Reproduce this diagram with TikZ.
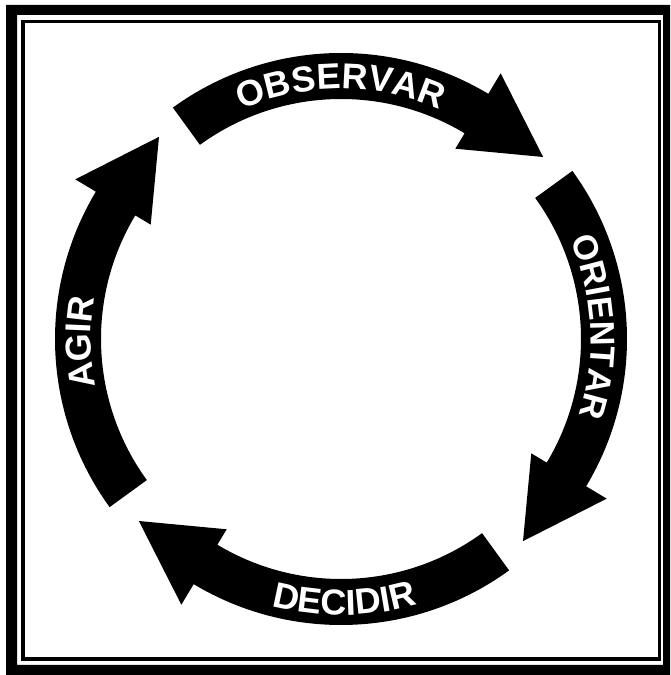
\documentclass[tikz,border=0pt]{standalone}
\usepackage{fontspec}
\setmainfont{Liberation Sans}
\usetikzlibrary{decorations.text}
\tikzset{
  bandfill/.style={fill=black},
  labelfont/.style={decoration={text along path, text align=center, text color=white}}
}
\newcommand{\arcfont}{\fontsize{36}{36}\selectfont\bfseries}
\newcommand{\arcfontsmall}{\fontsize{34.5}{34.5}\selectfont\bfseries}
\begin{document}
\begin{tikzpicture}[x=1pt,y=1pt]
\useasboundingbox (0,0) rectangle (670,675);
\fill[white] (0,0) rectangle (670,675);
% frame
\fill[black,even odd rule] (6,0) rectangle (670,670) (17,10) rectangle (663,660);
\draw[line width=3.2pt] (23,16) rectangle (659.5,653.5);
\begin{scope}[shift={(341pt,336pt)}]
\foreach \a in {126,36,-54,-144}{
  \fill[bandfill] (\a:286pt) arc[start angle=\a, end angle=\a-67, radius=286pt]
    -- (\a-67:310pt) -- (\a-84:272pt) -- (\a-67:222pt) -- (\a-67:240pt)
    arc[start angle=\a-67, end angle=\a, radius=240pt] -- cycle;
}
\path[labelfont, decorate, decoration={text={|\arcfont|OBSERVAR}}]
  (150:250pt) arc[start angle=150, end angle=30, radius=250pt];
\path[labelfont, decorate, decoration={text={|\arcfontsmall|ORIENTAR}}]
  (62.8:250pt) arc[start angle=62.8, end angle=-57.2, radius=250pt];
\path[labelfont, decorate, decoration={text={|\arcfont|DECIDIR}}]
  (-149.3:276pt) arc[start angle=-149.3, end angle=-29.3, radius=276pt];
\path[labelfont, decorate, decoration={text={|\arcfont|AGIR}}]
  (240.7:250pt) arc[start angle=240.7, end angle=120.7, radius=250pt];
\end{scope}
\end{tikzpicture}
\end{document}
